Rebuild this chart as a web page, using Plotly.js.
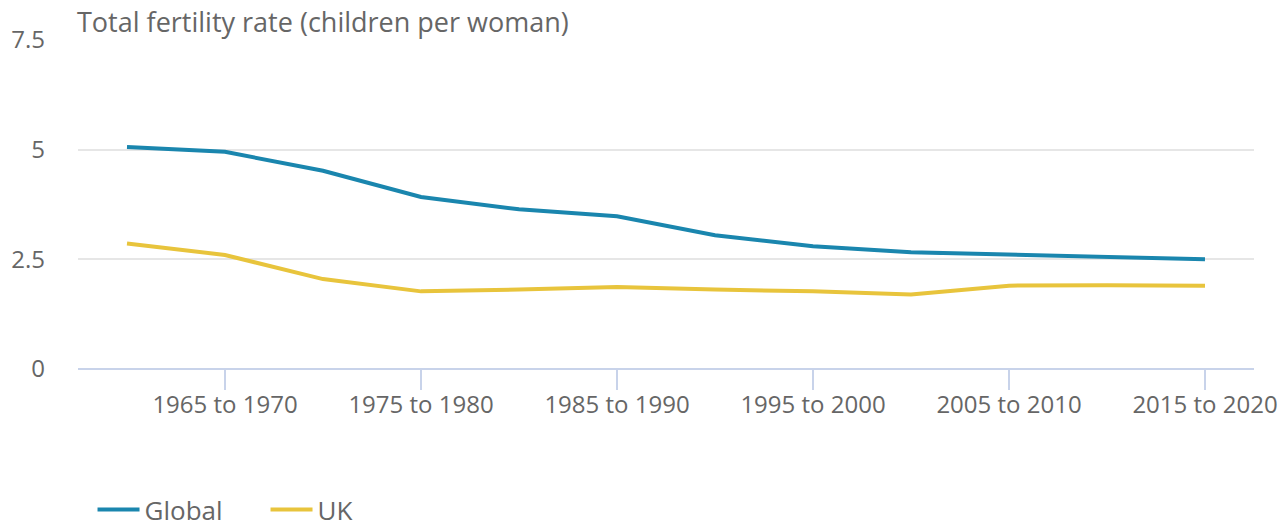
<!DOCTYPE html>
<html>
<head>
<meta charset="utf-8">
<script src="https://cdn.plot.ly/plotly-3.0.1.min.js"></script>
<style>html,body{margin:0;padding:0;background:#fff;}#chart{width:1285px;height:524px;}</style>
</head>
<body>
<div id="chart"></div>
<script>
const periods = ["1960 to 1965","1965 to 1970","1970 to 1975","1975 to 1980","1980 to 1985","1985 to 1990","1990 to 1995","1995 to 2000","2000 to 2005","2005 to 2010","2010 to 2015","2015 to 2020"];
const globalTFR = [5.06, 4.95, 4.52, 3.92, 3.64, 3.48, 3.05, 2.80, 2.66, 2.60, 2.55, 2.50];
const ukTFR = [2.86, 2.60, 2.05, 1.77, 1.81, 1.87, 1.81, 1.77, 1.70, 1.90, 1.91, 1.90];
const tickLabels = ["1965 to 1970","1975 to 1980","1985 to 1990","1995 to 2000","2005 to 2010","2015 to 2020"];
const yTicks = [0, 2.5, 5, 7.5];

const font = "'Open Sans', sans-serif";
const grey = "#666666";

const traces = [
  {x: periods, y: globalTFR, name: "Global", type: "scatter", mode: "lines",
   line: {color: "#1a86ae", width: 4}},
  {x: periods, y: ukTFR, name: "UK", type: "scatter", mode: "lines",
   line: {color: "#e8c43c", width: 4}}
];

const layout = {
  width: 1285, height: 524,
  margin: {l: 78, r: 31, t: 40, b: 155, autoexpand: false},
  paper_bgcolor: "#ffffff", plot_bgcolor: "#ffffff",
  font: {family: font, color: grey, size: 24},
  showlegend: true,
  legend: {orientation: "h", xref: "container", yref: "paper", x: 0.072, y: -0.427, xanchor: "left", yanchor: "middle",
           font: {family: font, size: 26, color: grey}, itemwidth: 42, entrywidth: 116, entrywidthmode: "pixels", traceorder: "normal"},
  xaxis: {type: "category", categoryarray: periods, range: [-0.5, 11.5], tickangle: 0, automargin: false,
          tickmode: "array", tickvals: tickLabels, ticktext: tickLabels,
          ticks: "outside", ticklen: 20, tickcolor: "#c8d3ea", tickwidth: 2,
          showline: false, showgrid: false, zeroline: false, ticklabelstandoff: -6,
          tickfont: {family: font, size: 24, color: grey}, fixedrange: true},
  yaxis: {range: [0, 7.5], tickmode: "array", tickvals: yTicks, ticktext: ["0","2.5","5","7.5"], automargin: false,
          showgrid: true, gridcolor: "#e6e6e6", gridwidth: 2,
          zeroline: true, zerolinecolor: "#c8d3ea", zerolinewidth: 2,
          showline: false, ticks: "", ticklabelstandoff: 32,
          tickfont: {family: font, size: 24, color: grey}, fixedrange: true},
  annotations: [{text: "Total fertility rate (children per woman)", xref: "paper", yref: "paper",
                 x: 0, y: 1, xanchor: "left", yanchor: "bottom", xshift: -3, yshift: -2, showarrow: false,
                 font: {family: font, size: 27, color: grey}}]
};

Plotly.newPlot("chart", traces, layout, {displayModeBar: false, staticPlot: true});
</script>
</body>
</html>
